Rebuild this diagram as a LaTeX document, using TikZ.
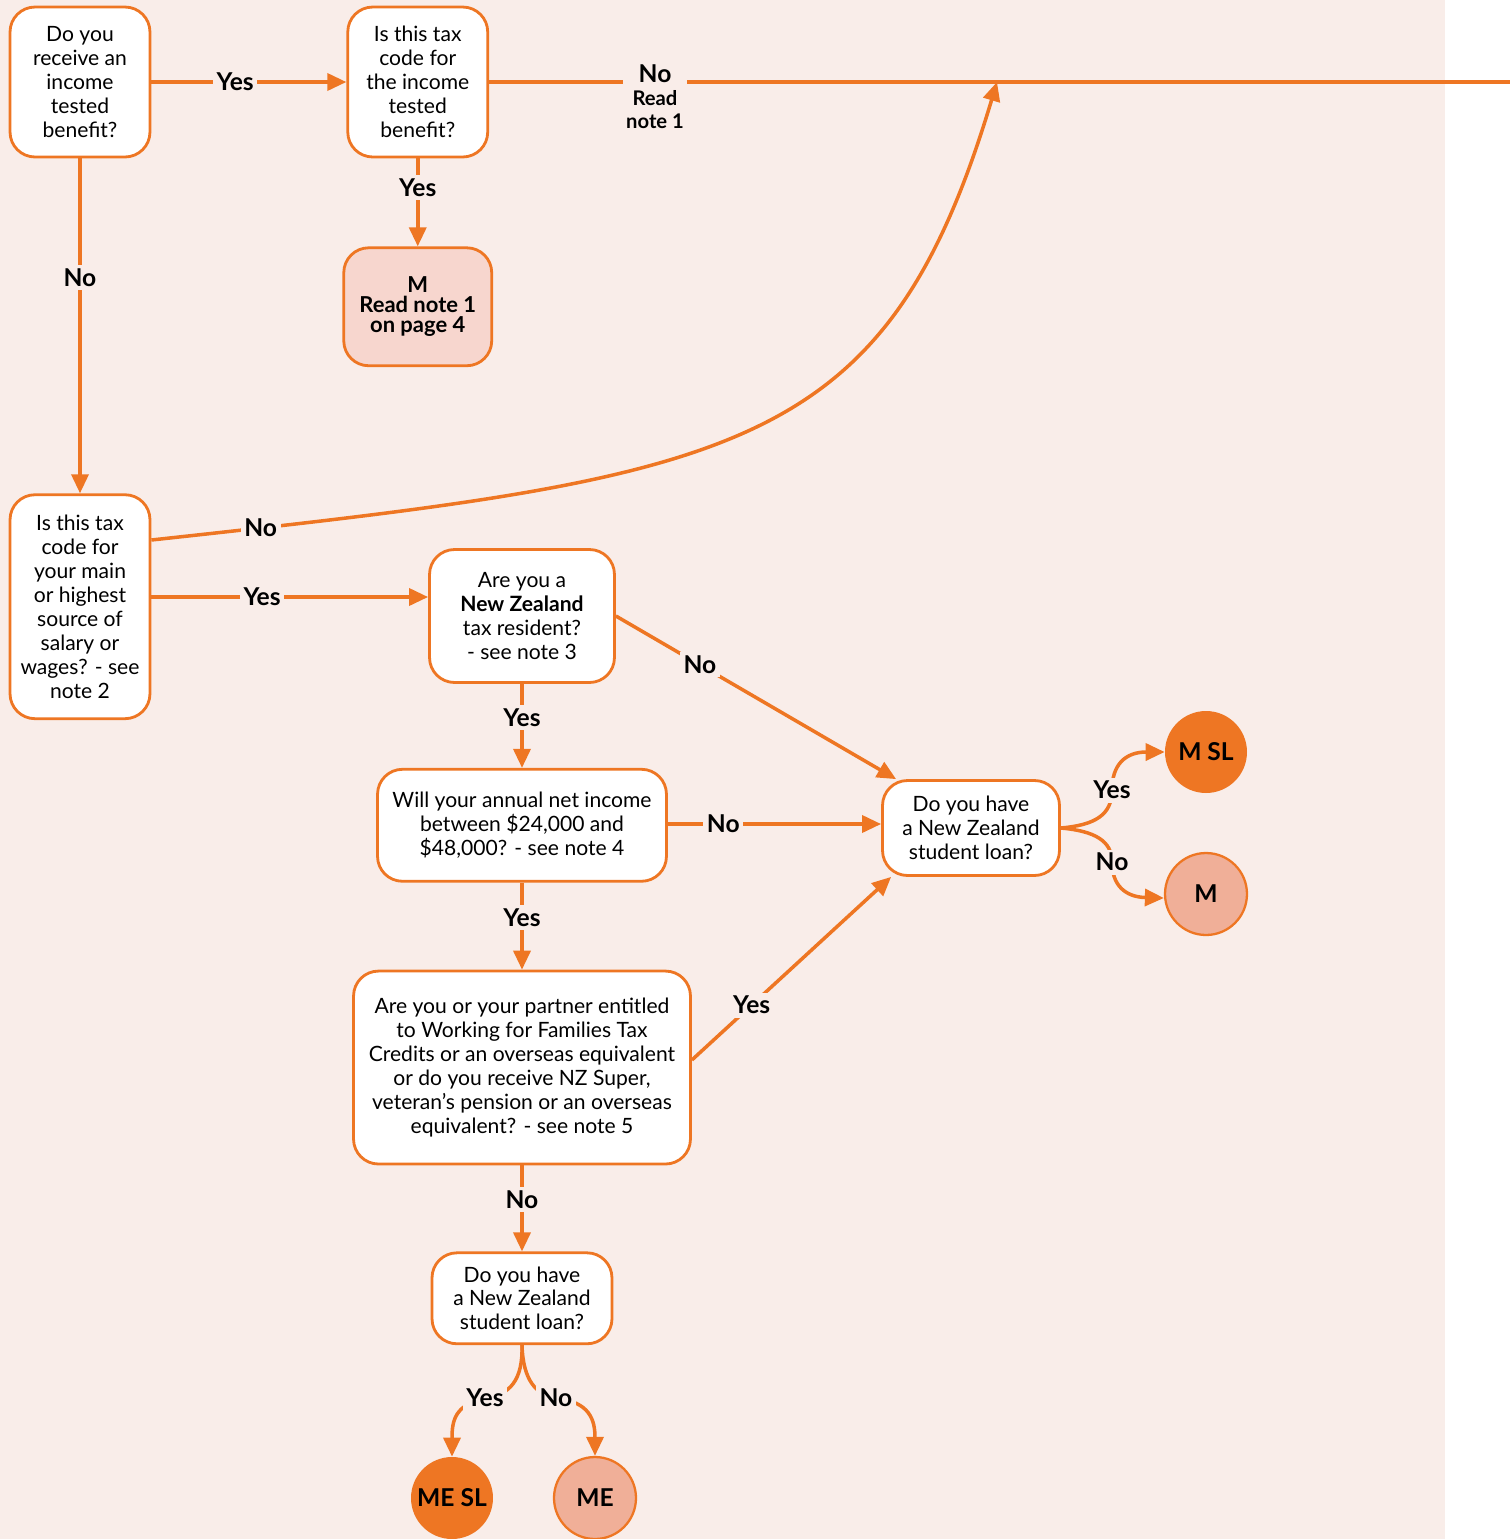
\documentclass[tikz,border=0pt]{standalone}
\usepackage{fontspec}
\setmainfont{Lato}
\usetikzlibrary{positioning,shapes,arrows.meta}
\usepackage{xcolor}
\definecolor{taxorange}{HTML}{EE7623}
\definecolor{bgpink}{HTML}{F9EDE9}
\definecolor{notepink}{HTML}{F7D6CE}
\definecolor{codesalmon}{HTML}{F0AF98}
\newcommand{\notesize}{\fontsize{11.5}{11}\selectfont}

\begin{document}
\begin{tikzpicture}
[x=0.02cm, y=-0.02cm,
>={Triangle[length=0.38cm,width=0.34cm]},
% The question style is used for the white boxes
question/.style={rectangle, rounded corners=0.5cm, draw=taxorange, line width=1.6pt, fill=white, align=center, inner sep=2pt, font=\fontsize{12}{13.6}\selectfont},
% The answer style is used for the Yes / No labels on the links
answer/.style={fill=bgpink, inner sep=2pt, align=center, font=\fontsize{14}{13}\selectfont\bfseries},
% The code style is used for the tax code circles
code/.style={circle, minimum size=1.64cm, inner sep=0pt, font=\fontsize{14}{14}\selectfont\bfseries},
link/.style={draw=taxorange, line width=2pt, ->}
]
\useasboundingbox (0,0) rectangle (1510,1539);
\fill[bgpink] (0,0) rectangle (1445,1539);

% Draw questions
\node [question, minimum width=2.8cm, minimum height=3cm] (benefit) at (80,82) {Do you\\receive an\\income\\tested\\benefit?};
\node [question, minimum width=2.8cm, minimum height=3cm, right=3.9cm of benefit] (benefitcode) {Is this tax\\code for\\the income\\tested\\benefit?};
\node [question, fill=notepink, minimum width=2.96cm, minimum height=2.36cm, below=1.76cm of benefitcode, font=\fontsize{12.5}{11.5}\selectfont\bfseries] (readnote) {M\\Read note 1\\on page 4};
\node [question, minimum width=2.8cm, minimum height=4.48cm, below=6.7cm of benefit] (mainjob) {Is this tax\\code for\\your main\\or highest\\source of\\salary or\\wages? - see\\note 2};
\node [question, minimum width=3.7cm, minimum height=2.66cm] (resident) at (522,616) {Are you a\\\textbf{New Zealand}\\tax resident?\\- see note 3};
\node [question, minimum width=5.78cm, minimum height=2.24cm, below=1.68cm of resident] (income) {Will your annual net income\\between \$24,000 and\\\$48,000? - see note 4};
\node [question, minimum width=6.74cm, minimum height=3.86cm, below=1.74cm of income] (families) {Are you or your partner entitled\\to Working for Families Tax\\Credits or an overseas equivalent\\or do you receive NZ Super,\\veteran's pension or an overseas\\equivalent? - see note 5};
\node [question, minimum width=3.6cm, minimum height=1.82cm, below=1.72cm of families] (loanlow) {Do you have\\a New Zealand\\student loan?};
\node [question, minimum width=3.54cm, minimum height=1.9cm] (loanhigh) at (971,828) {Do you have\\a New Zealand\\student loan?};

% Draw tax codes
\node [code, fill=taxorange] (msl) at (1206,752) {M SL};
\node [code, fill=codesalmon, draw=taxorange, line width=1.3pt] (m) at (1206,894) {M};
\node [code, fill=taxorange] (mesl) at (452,1498) {ME SL};
\node [code, fill=codesalmon, draw=taxorange, line width=1.3pt] (me) at (595,1498) {ME};

\coordinate (topend) at (1510,82);
\coordinate (joint) at (997,82);

% Draw links
\draw[link] (benefit) -- node[answer, pos=0.43]{Yes} (benefitcode);
\draw[link, -] (benefitcode) -- (topend);
\node [answer] (notelabel) at (655,97) {No\\\notesize Read\\\notesize note 1};
\draw[link] (benefitcode) -- node[answer, pos=0.33]{Yes} (readnote);
\draw[link] (benefit) -- node[answer, pos=0.355]{No} (mainjob);
\draw[link] (mainjob.east |- 0,540) .. controls (740,476) and (885,455) .. (joint) node[answer, pos=0.065]{No};
\draw[link] (mainjob.east |- 0,597) -- node[answer, pos=0.4]{Yes} (resident.west |- 0,597);
\draw[link] (resident) -- node[answer, pos=0.4]{Yes} (income);
\draw[link] (resident.east) -- node[answer, pos=0.3]{No} ([xshift=0.3cm]loanhigh.north west);
\draw[link] (income.east |- 0,824) -- node[answer, pos=0.26]{No} (loanhigh.west |- 0,824);
\draw[link] (income) -- node[answer, pos=0.4]{Yes} (families);
\draw[link] (families.east |- 0,1060) -- node[answer, pos=0.3]{Yes} ([xshift=0.2cm]loanhigh.south west);
\draw[link] (families) -- node[answer, pos=0.4]{No} (loanlow);
\draw[link] (loanhigh.east) .. controls (1095,825) and (1112,815) .. (1112,790) node[answer]{Yes} .. controls (1112,765) and (1125,752) .. (msl.west);
\draw[link] (loanhigh.east) .. controls (1095,831) and (1112,841) .. (1112,862) node[answer]{No} .. controls (1112,885) and (1125,897) .. ([yshift=-0.08cm]m.west);
\draw[link] (loanlow.south) .. controls (523,1380) and (510,1395) .. (485,1398) node[answer]{Yes} .. controls (455,1405) and (452,1420) .. (mesl.north);
\draw[link] (loanlow.south) .. controls (523,1380) and (536,1395) .. (556,1398) node[answer]{No} .. controls (590,1402) and (595,1420) .. (me.north);
\end{tikzpicture}
\end{document}
